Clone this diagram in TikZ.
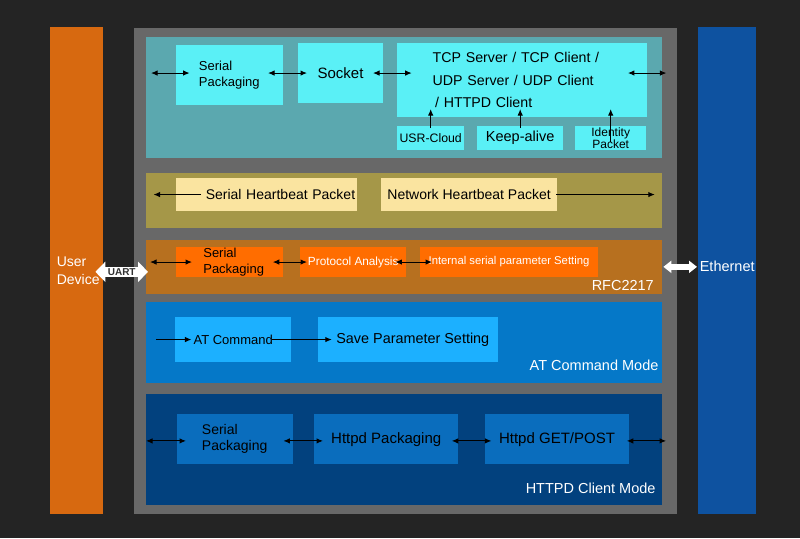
\documentclass[tikz,border=0pt]{standalone}
\usepackage{fontspec}
\setmainfont{Liberation Sans}
\usetikzlibrary{arrows.meta}

\definecolor{bgdark}{RGB}{36,36,36}
\definecolor{panelgray}{RGB}{104,104,104}
\definecolor{userorange}{RGB}{215,105,16}
\definecolor{ethblue}{RGB}{14,82,160}
\definecolor{tealband}{RGB}{91,168,175}
\definecolor{cyanbox}{RGB}{90,240,246}
\definecolor{khakiband}{RGB}{165,151,72}
\definecolor{yellowbox}{RGB}{250,228,160}
\definecolor{rfcband}{RGB}{183,112,31}
\definecolor{orangebox}{RGB}{255,109,0}
\definecolor{atband}{RGB}{5,120,200}
\definecolor{atbox}{RGB}{28,176,255}
\definecolor{hcband}{RGB}{2,65,126}
\definecolor{hcbox}{RGB}{10,109,189}
\definecolor{uartgray}{RGB}{50,50,50}

\tikzset{
	band/.style={fill=#1, anchor=north west, inner sep=0pt},
	box/.style={fill=#1, anchor=north west, inner sep=0pt, align=center},
	dbl/.style={line width=1pt, {Latex[length=6.5pt,width=5.5pt]}-{Latex[length=6.5pt,width=5.5pt]}},
	one/.style={line width=1pt, -{Latex[length=6.5pt,width=5.5pt]}},
	modelbl/.style={text=white, anchor=east, inner sep=0pt, font=\fontsize{14.5}{17}\selectfont},
}

\begin{document}
\begin{tikzpicture}[x=1pt, y=-1pt, font=\fontsize{14}{17}\selectfont]
	% background
	\fill[bgdark] (0,0) rectangle (800,538);
	\useasboundingbox (0,0) rectangle (800,538);

	% columns and panel
	\node[band=userorange, minimum width=53pt, minimum height=487pt, text=white, align=left, font=\fontsize{14}{17.5}\selectfont] (user) at (50,27) {\hspace*{3pt}User\\\hspace*{3pt}Device};
	\node[band=panelgray, minimum width=543pt, minimum height=486pt] (panel) at (134,28) {};
	\node[band=ethblue, minimum width=58pt, minimum height=487pt, text=white, text depth=8pt, font=\fontsize{14.5}{17}\selectfont] (eth) at (698,27) {Ethernet};

	% bands
	\node[band=tealband, minimum width=516pt, minimum height=121pt] (top) at (146,36.7) {};
	\node[band=khakiband, minimum width=516pt, minimum height=54.6pt] (kh) at (146,172.7) {};
	\node[band=rfcband, minimum width=516pt, minimum height=54.7pt] (rfc) at (146,239.3) {};
	\node[band=atband, minimum width=516pt, minimum height=81pt] (at) at (146,302) {};
	\node[band=hcband, minimum width=516pt, minimum height=111.7pt] (hc) at (146,393.3) {};

	% socket band
	\node[box=cyanbox, minimum width=107pt, minimum height=60pt, align=left, font=\fontsize{13}{16}\selectfont] (sp1) at (175.6,45) {Serial\\Packaging};
	\node[box=cyanbox, minimum width=84.6pt, minimum height=59.7pt, font=\fontsize{15}{17}\selectfont] (sock) at (298,43) {Socket};
	\node[box=cyanbox, minimum width=249.5pt, minimum height=73.7pt, inner xsep=35.5pt, text width=178.5pt, align=left, font=\fontsize{14.2}{22.5}\selectfont] (tcp) at (397,43) {TCP Server / TCP Client /\\UDP Server / UDP Client\\\hspace*{2.5pt}/ HTTPD Client};
	\node[box=cyanbox, minimum width=67pt, minimum height=24pt, font=\fontsize{12.3}{14}\selectfont] (cloud) at (397,126) {USR-Cloud};
	\node[box=cyanbox, minimum width=86pt, minimum height=24pt, font=\fontsize{14.5}{17}\selectfont] (keep) at (477,126) {Keep-alive};
	\node[box=cyanbox, minimum width=71pt, minimum height=24pt, font=\fontsize{12}{11.5}\selectfont] (ident) at (575,126) {Identity\\Packet};

	\draw[dbl] ([xshift=5pt]top.west |- sock) -- ([xshift=14pt]sp1.west |- sock);
	\draw[dbl] ([xshift=-15pt]sp1.east |- sock) -- ([xshift=9pt]sock.west);
	\draw[dbl] ([xshift=-10pt]sock.east) -- ([xshift=14.7pt]tcp.west |- sock);
	\draw[dbl] ([xshift=-19pt]tcp.east |- sock) -- ([xshift=4pt]top.east |- sock);
	\draw[one] ([yshift=-2pt]cloud.north) -- ([yshift=8pt]cloud.north |- tcp.south);
	\draw[one] ([yshift=-2pt]keep.north) -- ([yshift=8pt]keep.north |- tcp.south);
	\draw[one] ([yshift=-16pt]ident.north) -- ([yshift=8pt]ident.north |- tcp.south);

	% heartbeat band
	\node[box=yellowbox, minimum width=181.5pt, minimum height=32.7pt, inner xsep=2pt, text width=177.5pt, align=right] (shb) at (175.5,178) {Serial Heartbeat Packet};
	\node[box=yellowbox, minimum width=176.2pt, minimum height=32.7pt] (nhb) at (380.8,178) {Network Heartbeat Packet};

	\draw[one] ([xshift=25.5pt]shb.west) -- ([xshift=7.5pt]kh.west |- shb.west);
	\draw[one] ([xshift=-1pt]nhb.east) -- ([xshift=-7.6pt]kh.east |- nhb.east);

	% rfc2217 band
	\node[box=orangebox, minimum width=106.4pt, minimum height=29.7pt, align=left, font=\fontsize{13}{16.3}\selectfont] (sp2) at (176,247) {\hspace*{8.6pt}Serial\\\hspace*{8.6pt}Packaging};
	\node[box=orangebox, minimum width=106pt, minimum height=29.7pt, text=white, font=\fontsize{11.8}{14}\selectfont] (pa) at (300,247) {Protocol Analysis};
	\node[box=orangebox, minimum width=178.4pt, minimum height=29.7pt, text=white, font=\fontsize{11.3}{14}\selectfont] (isp) at (419.6,247) {Internal serial parameter Setting};
	\node[modelbl] (rfclbl) at (654,286) {RFC2217};

	\draw[dbl] ([xshift=4pt]rfc.west |- sp2) -- ([xshift=16pt]sp2.west);
	\draw[dbl] ([xshift=-10pt]sp2.east) -- ([xshift=7pt]pa.west);
	\draw[dbl] ([xshift=-11pt]pa.east) -- ([xshift=12.4pt]isp.west);

	% uart and ethernet
	\draw[white, line width=10pt, {Triangle[length=10pt,width=20pt]}-{Triangle[length=10pt,width=20pt]}] ([xshift=-8pt,yshift=-5pt]user.east |- rfc.west) -- ([xshift=2pt,yshift=-5pt]rfc.west) node[midway, text=uartgray, inner sep=0pt, font=\bfseries\fontsize{10}{12}\selectfont] (uart) {UART};
	\draw[white, line width=6pt, {Triangle[length=8pt,width=12pt]}-{Triangle[length=8pt,width=12pt]}] ([xshift=1pt]rfc.east) -- ([xshift=-1pt]eth.west |- rfc.east);

	% at command band
	\node[box=atbox, minimum width=116pt, minimum height=44.7pt, font=\fontsize{13}{16}\selectfont] (atc) at (175,317) {AT Command};
	\node[box=atbox, minimum width=180.5pt, minimum height=44.7pt, font=\fontsize{14.4}{17}\selectfont] (spm) at (317.5,317) {\hspace*{9.7pt}Save Parameter Setting};
	\node[modelbl] (atlbl) at (658.6,365) {AT Command Mode};

	\draw[one] ([xshift=10pt]at.west |- atc) -- ([xshift=16.4pt]atc.west);
	\draw[one] ([xshift=-19pt]atc.east) -- ([xshift=14.3pt]spm.west);

	% httpd band
	\node[box=hcbox, minimum width=116.1pt, minimum height=50pt, align=left, font=\fontsize{14}{15.7}\selectfont] (sp3) at (176.4,414) {Serial\\Packaging};
	\node[box=hcbox, minimum width=144pt, minimum height=50pt, font=\fontsize{15}{17}\selectfont] (hp) at (314,414) {Httpd Packaging};
	\node[box=hcbox, minimum width=144.4pt, minimum height=50pt, font=\fontsize{15}{17}\selectfont] (hg) at (484.6,414) {Httpd GET/POST};
	\node[modelbl] (hclbl) at (655.7,488) {HTTPD Client Mode};

	\draw[dbl] ([yshift=-1.7pt]hc.west |- sp3) -- ([xshift=9.6pt,yshift=-1.7pt]sp3.west);
	\draw[dbl] ([xshift=-9.5pt,yshift=-1.7pt]sp3.east) -- ([xshift=9pt,yshift=-1.7pt]hp.west);
	\draw[dbl] ([xshift=-6.6pt,yshift=-1.7pt]hp.east) -- ([xshift=6.8pt,yshift=-1.7pt]hg.west);
	\draw[dbl] ([xshift=-2.6pt,yshift=-1.7pt]hg.east) -- ([xshift=3.7pt,yshift=-1.7pt]hc.east |- hg);
\end{tikzpicture}
\end{document}
